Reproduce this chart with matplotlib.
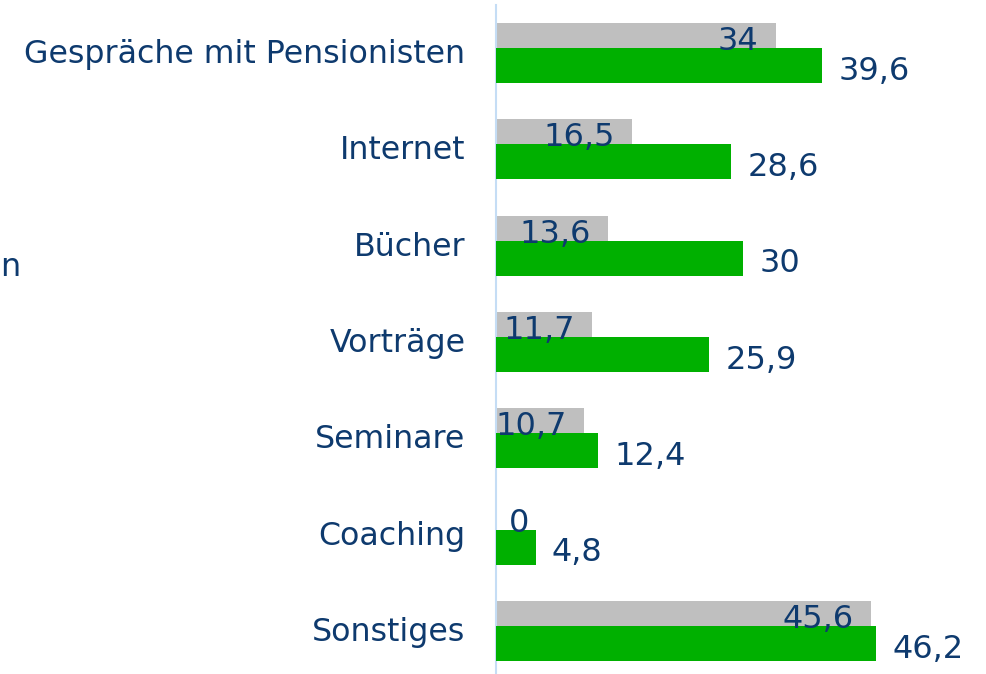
import numpy as np
import matplotlib
matplotlib.use("Agg")
import matplotlib.pyplot as plt

categories = ["Gespräche mit Pensionisten", "Internet", "Bücher", "Vorträge",
              "Seminare", "Coaching", "Sonstiges"]
grey_vals = [34, 16.5, 13.6, 11.7, 10.7, 0, 45.6]
green_vals = [39.6, 28.6, 30, 25.9, 12.4, 4.8, 46.2]
grey_labels = ["34", "16,5", "13,6", "11,7", "10,7", "0", "45,6"]
green_labels = ["39,6", "28,6", "30", "25,9", "12,4", "4,8", "46,2"]

TXT = "#0E3A6E"
W, H = 987, 674

fig = plt.figure(figsize=(W / 100, H / 100), dpi=100)
# axes: x=0 at 496 px, 8.23 px per unit; top at 5 px, bottom at figure edge
left = 496 / W
ax = fig.add_axes([left, 0.0, 1.0 - left, (H - 5) / H])
ax.set_xlim(0, (W - 496) / 8.23)
ax.set_ylim(6 + 0.317, -0.628)

y = np.arange(len(categories))
h = 0.363
off = 0.26
ax.barh(y - off, grey_vals, height=h, color="#BFBFBF", zorder=2)
ax.barh(y, green_vals, height=h, color="#00B000", zorder=3)

for yi, v, lab in zip(y, grey_vals, grey_labels):
    ax.text(max(v - 2.1, 4.1), yi - off + 0.01, lab, ha="right", va="center",
            fontsize=23, color=TXT, zorder=4)
for yi, v, lab in zip(y, green_vals, green_labels):
    ax.text(v + 2.0, yi + 0.06, lab, ha="left", va="center",
            fontsize=23, color=TXT, zorder=4, clip_on=False)

ax.set_yticks(y - off / 2 - 0.02)
ax.set_yticklabels(categories, fontsize=22.8, color=TXT)
ax.tick_params(axis="y", length=0, pad=22)
ax.set_xticks([])
for s in ["top", "right", "bottom"]:
    ax.spines[s].set_visible(False)
ax.spines["left"].set_color("#C5DDF5")
ax.spines["left"].set_linewidth(1.5)

fig.text(0.5 / W, 1 - 268 / H, "n", ha="left", va="center", fontsize=23, color=TXT)

fig.savefig("out.png", dpi=100)
